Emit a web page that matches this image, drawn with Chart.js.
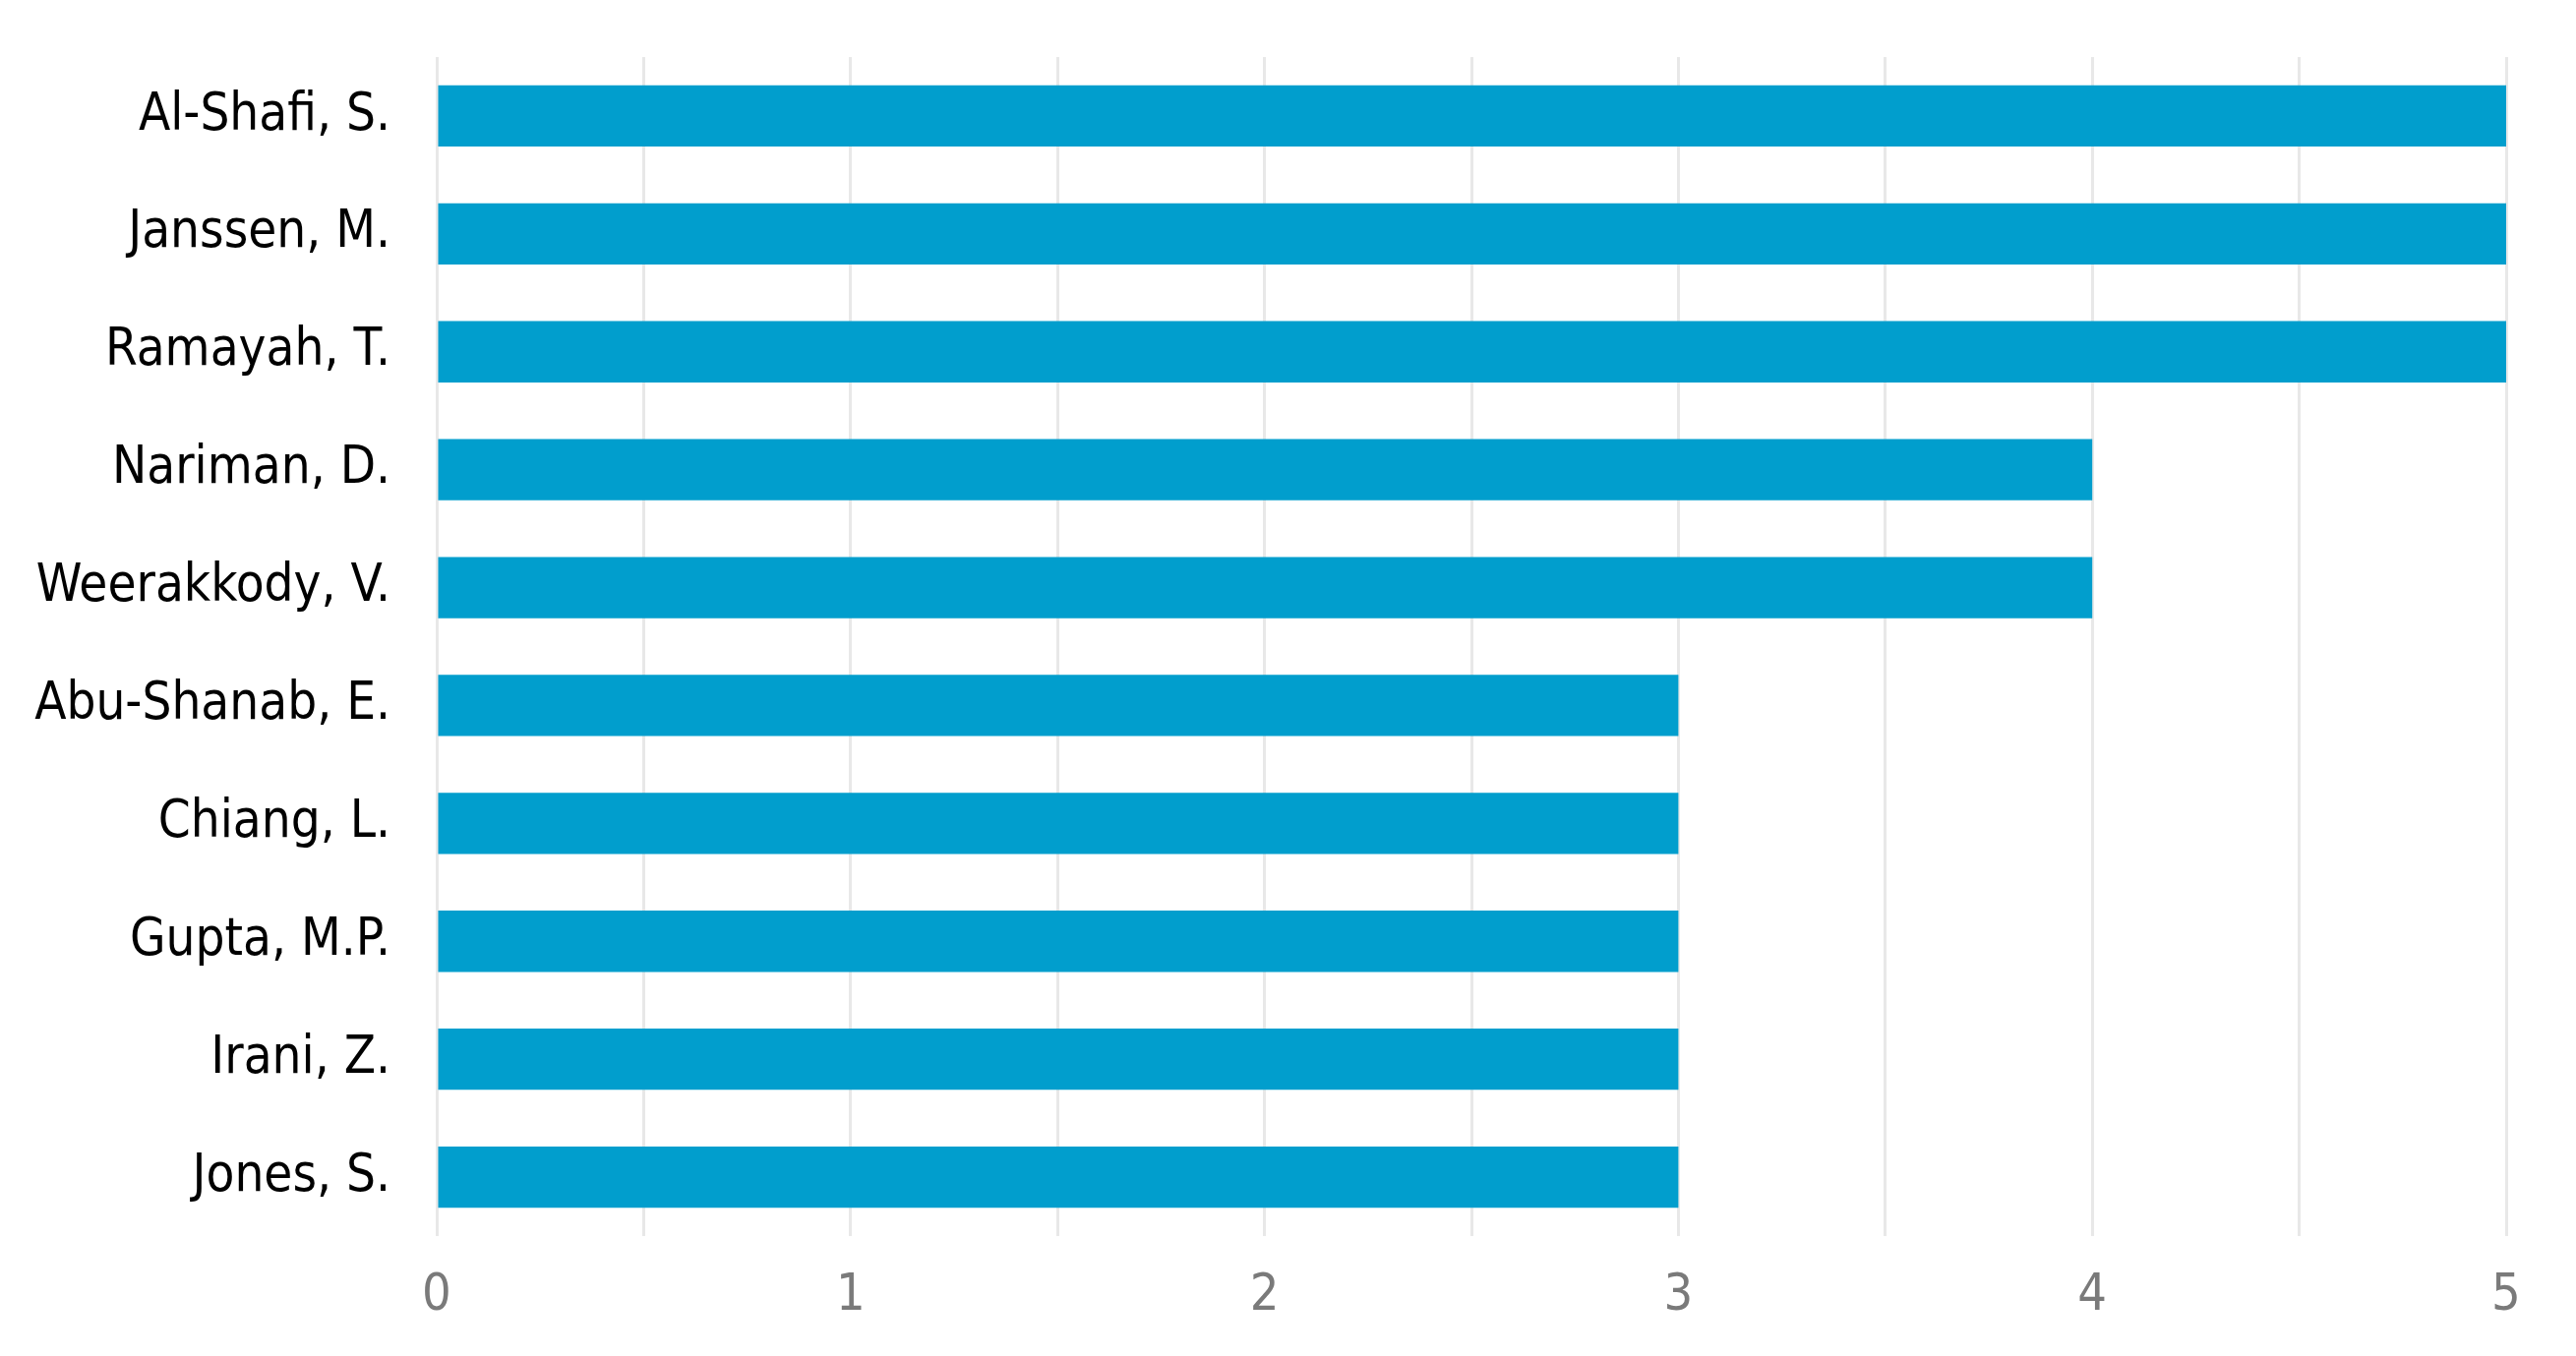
<!DOCTYPE html>
<html>
<head>
<meta charset="utf-8">
<script src="https://cdn.jsdelivr.net/npm/chart.js@4/dist/chart.umd.min.js"></script>
<style>
  html, body { margin: 0; padding: 0; background: #fff; }
  #wrap { width: 2619px; height: 1379px; }
</style>
</head>
<body>
<div id="wrap"><canvas id="authors"></canvas></div>
<script>
const authors = ['Al-Shafi, S.', 'Janssen, M.', 'Ramayah, T.', 'Nariman, D.', 'Weerakkody, V.',
                 'Abu-Shanab, E.', 'Chiang, L.', 'Gupta, M.P.', 'Irani, Z.', 'Jones, S.'];
const documents = [5, 5, 5, 4, 4, 3, 3, 3, 3, 3];
const xTicks = [0, 1, 2, 3, 4, 5];

const labelFont = "'DejaVu Sans Condensed', 'DejaVu Sans', sans-serif";

new Chart(document.getElementById('authors'), {
    type: 'bar',
    data: {
        labels: authors,
        datasets: [{
            label: 'Documents',
            data: documents,
            backgroundColor: '#019ecd',
            borderWidth: 0,
            barPercentage: 0.52,
            categoryPercentage: 1.0
        }]
    },
    options: {
        indexAxis: 'y',
        responsive: true,
        maintainAspectRatio: false,
        animation: false,
        layout: { padding: { top: 58, right: 71, bottom: 0, left: 0 } },
        plugins: {
            legend: { display: false },
            tooltip: { enabled: false }
        },
        scales: {
            x: {
                min: 0,
                max: 5,
                border: { display: false },
                grid: { color: '#e8e8e8', lineWidth: 3, drawTicks: false },
                ticks: {
                    stepSize: 0.5,
                    padding: 30,
                    color: '#7a7a7a',
                    font: { family: labelFont, size: 52 },
                    maxRotation: 0,
                    autoSkip: false,
                    callback: v => xTicks.includes(v) ? String(v) : ''
                },
                afterFit: scale => { scale.height = 122; }
            },
            y: {
                border: { display: false },
                grid: { display: false, drawTicks: false },
                ticks: {
                    padding: 47,
                    color: '#000',
                    font: { family: labelFont, size: 52.5 },
                    autoSkip: false
                },
                afterFit: scale => {
                    scale.width = 444;
                    // keep label overflow from pushing the plot area down
                    scale.paddingTop = 0;
                    scale.paddingBottom = 0;
                }
            }
        }
    }
});
</script>
</body>
</html>
